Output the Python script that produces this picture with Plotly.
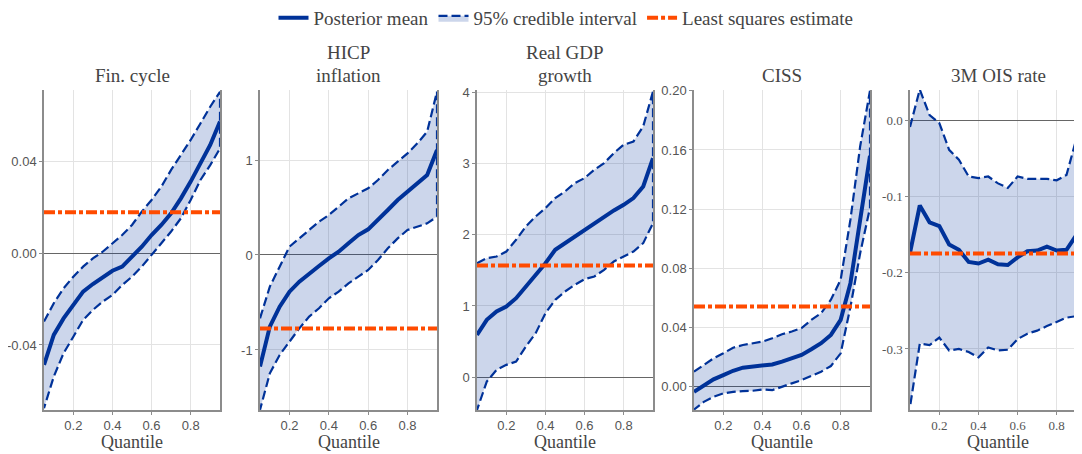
import plotly.graph_objects as go

# ---------------- data ----------------
quantiles = [0.05, 0.10, 0.15, 0.20, 0.25, 0.30, 0.35, 0.40, 0.45, 0.50,
             0.55, 0.60, 0.65, 0.70, 0.75, 0.80, 0.85, 0.90, 0.95]

title_line1 = ["", "HICP", "Real GDP", "", ""]
title_line2 = ["Fin. cycle", "inflation", "growth", "CISS", "3M OIS rate"]

fin_mean = [-0.0487, -0.0356, -0.0284, -0.0225, -0.0167, -0.0134, -0.0105, -0.0076, -0.0058, -0.0015,
            0.0029, 0.0080, 0.0124, 0.0175, 0.0240, 0.0313, 0.0393, 0.0473, 0.0575]
fin_upper = [-0.0298, -0.0218, -0.0153, -0.0102, -0.0058, -0.0022, 0.0007, 0.0044, 0.0080, 0.0124,
             0.0182, 0.0233, 0.0291, 0.0364, 0.0429, 0.0495, 0.0567, 0.0640, 0.0705]
fin_lower = [-0.0676, -0.0538, -0.0436, -0.0364, -0.0291, -0.0247, -0.0211, -0.0182, -0.0138, -0.0102,
             -0.0058, -0.0007, 0.0044, 0.0095, 0.0153, 0.0233, 0.0320, 0.0385, 0.0458]
fin_ls = 0.0179

hicp_mean = [-1.175, -0.754, -0.544, -0.386, -0.281, -0.193, -0.116, -0.035, 0.035, 0.123,
             0.210, 0.270, 0.368, 0.474, 0.579, 0.667, 0.754, 0.842, 1.105]
hicp_upper = [-0.667, -0.333, -0.123, 0.088, 0.175, 0.263, 0.351, 0.421, 0.509, 0.596,
              0.649, 0.702, 0.789, 0.895, 0.982, 1.070, 1.175, 1.298, 1.720]
hicp_lower = [-1.630, -1.246, -1.053, -0.912, -0.772, -0.649, -0.561, -0.456, -0.386, -0.298,
              -0.228, -0.158, -0.053, 0.070, 0.175, 0.263, 0.298, 0.333, 0.404]
hicp_ls = -0.775

gdp_mean = [0.594, 0.805, 0.922, 0.992, 1.109, 1.273, 1.437, 1.600, 1.788, 1.881,
            1.984, 2.068, 2.162, 2.255, 2.340, 2.419, 2.513, 2.677, 3.074]
gdp_upper = [1.600, 1.670, 1.694, 1.764, 1.928, 2.115, 2.255, 2.372, 2.513, 2.606,
             2.723, 2.794, 2.911, 3.004, 3.145, 3.262, 3.308, 3.519, 4.010]
gdp_lower = [-0.459, -0.061, 0.103, 0.173, 0.220, 0.430, 0.618, 0.898, 1.086, 1.203,
             1.296, 1.376, 1.413, 1.507, 1.624, 1.694, 1.764, 1.881, 2.162]
gdp_ls = 1.568

ciss_mean = [-0.0034, 0.0011, 0.0050, 0.0079, 0.0108, 0.0129, 0.0136, 0.0140, 0.0151, 0.0170,
             0.0192, 0.0215, 0.0253, 0.0294, 0.0350, 0.0452, 0.0700, 0.1130, 0.1560]
ciss_upper = [0.0102, 0.0147, 0.0192, 0.0226, 0.0264, 0.0282, 0.0294, 0.0305, 0.0328, 0.0355,
              0.0373, 0.0396, 0.0452, 0.0497, 0.0588, 0.0723, 0.1130, 0.1627, 0.2000]
ciss_lower = [-0.0154, -0.0102, -0.0068, -0.0045, -0.0034, -0.0029, -0.0027, -0.0018, -0.0023, 0.0000,
              0.0023, 0.0045, 0.0072, 0.0102, 0.0140, 0.0226, 0.0540, 0.0904, 0.1210]
ciss_ls = 0.0542

ois_mean = [-0.174, -0.112, -0.134, -0.139, -0.163, -0.170, -0.186, -0.188, -0.183, -0.189,
            -0.190, -0.180, -0.172, -0.171, -0.166, -0.171, -0.170, -0.151, -0.151]
ois_upper = [-0.009, 0.040, 0.0065, -0.004, -0.039, -0.052, -0.074, -0.076, -0.074, -0.083,
             -0.089, -0.074, -0.077, -0.077, -0.077, -0.079, -0.072, -0.025, 0.020]
ois_lower = [-0.376, -0.293, -0.295, -0.285, -0.302, -0.300, -0.304, -0.311, -0.298, -0.302,
             -0.301, -0.287, -0.280, -0.276, -0.270, -0.264, -0.259, -0.257, -0.290]
ois_ls = -0.175

x_tickvals = [0.2, 0.4, 0.6, 0.8]
x_ticktext = ["0.2", "0.4", "0.6", "0.8"]

y_tickvals = [
    [-0.04, 0.0, 0.04],
    [-1, 0, 1],
    [0, 1, 2, 3, 4],
    [0.0, 0.04, 0.08, 0.12, 0.16, 0.20],
    [-0.3, -0.2, -0.1, 0.0],
]
y_ticktext = [
    ["-0.04", "0.00", "0.04"],
    ["-1", "0", "1"],
    ["0", "1", "2", "3", "4"],
    ["0.00", "0.04", "0.08", "0.12", "0.16", "0.20"],
    ["-0.3", "-0.2", "-0.1", "0.0"],
]

means = [fin_mean, hicp_mean, gdp_mean, ciss_mean, ois_mean]
uppers = [fin_upper, hicp_upper, gdp_upper, ciss_upper, ois_upper]
lowers = [fin_lower, hicp_lower, gdp_lower, ciss_lower, ois_lower]
ls_vals = [fin_ls, hicp_ls, gdp_ls, ciss_ls, ois_ls]

# ---------------- layout constants ----------------
OFF = 8                      # default page body margin
W, H = 1082 - OFF, 454 - OFF  # figure size so that it fills the window


def fx(px):
    return (px - OFF) / W


def fy(py):
    return 1 - (py - OFF) / H


panel_px = [(44, 220), (260, 437), (477, 653), (694, 870), (910, 1082)]
y_ranges = [[-0.0684, 0.0713], [-1.632, 1.737], [-0.46, 4.03], [-0.0157, 0.2005], [-0.380, 0.0394]]
x_ranges = [[0.05, 0.95]] * 4 + [[0.05, 0.05 + (1082 - 910) / 195.6]]
plot_top, plot_bottom = 90, 410

BLUE = "#003299"
BAND = "rgba(0,50,153,0.20)"
ORANGE = "#ff4b00"
SERIF = "Liberation Serif, Times New Roman, serif"
SANS = "Liberation Sans, Arial, sans-serif"

fig = go.Figure()

for i in range(5):
    xa = "x" if i == 0 else f"x{i+1}"
    ya = "y" if i == 0 else f"y{i+1}"
    show = i == 0
    band_x = quantiles + quantiles[::-1]
    band_y = uppers[i] + lowers[i][::-1]
    fig.add_trace(go.Scatter(
        x=band_x, y=band_y, fill="toself", fillcolor=BAND,
        line=dict(color=BLUE, width=2.2, dash="9px,4px"),
        mode="lines", name="95% credible interval", legendrank=2,
        showlegend=show, xaxis=xa, yaxis=ya, hoverinfo="skip"))
    fig.add_trace(go.Scatter(
        x=quantiles, y=means[i], mode="lines",
        line=dict(color=BLUE, width=4), name="Posterior mean", legendrank=1,
        showlegend=show, xaxis=xa, yaxis=ya))
    fig.add_trace(go.Scatter(
        x=[quantiles[0], quantiles[-1]], y=[ls_vals[i], ls_vals[i]], mode="lines",
        line=dict(color=ORANGE, width=4, dash="11px,3px,4px,3px"),
        name="Least squares estimate", legendrank=3,
        showlegend=show, xaxis=xa, yaxis=ya))

layout = dict(
    width=W, height=H,
    margin=dict(l=0, r=0, t=0, b=0, autoexpand=False),
    paper_bgcolor="white", plot_bgcolor="white",
    showlegend=True,
    legend=dict(orientation="h", x=fx(566), xanchor="center", y=fy(18), yanchor="middle",
                font=dict(family=SERIF, size=19, color="#444"), itemwidth=30,
                bgcolor="rgba(0,0,0,0)", tracegroupgap=0),
)

annotations = []
for i in range(5):
    x0, x1 = panel_px[i]
    xkey = "xaxis" if i == 0 else f"xaxis{i+1}"
    ykey = "yaxis" if i == 0 else f"yaxis{i+1}"
    ya = "y" if i == 0 else f"y{i+1}"
    xa = "x" if i == 0 else f"x{i+1}"
    tickfont = dict(family=SERIF if i == 4 else SANS, size=13, color="#555")
    layout[xkey] = dict(
        domain=[fx(x0), min(fx(x1), 1.0)], range=x_ranges[i], anchor=ya,
        tickvals=x_tickvals, ticktext=x_ticktext, tickfont=tickfont,
        showgrid=True, gridcolor="#e3e3e3", gridwidth=1,
        showline=True, linecolor="#8c8c8c", linewidth=1.5,
        ticks="outside", ticklen=3, tickcolor="#8c8c8c", zeroline=False,
    )
    layout[ykey] = dict(
        domain=[fy(plot_bottom), fy(plot_top)], range=y_ranges[i], anchor=xa,
        tickvals=y_tickvals[i], ticktext=y_ticktext[i], tickfont=tickfont,
        showgrid=True, gridcolor="#e3e3e3", gridwidth=1,
        showline=True, linecolor="#8c8c8c", linewidth=1.5, mirror=(i != 4),
        ticks="outside", ticklen=3, tickcolor="#8c8c8c",
        zeroline=True, zerolinecolor="#666", zerolinewidth=1,
    )
    cx = fx((x0 + x1) / 2 if i < 4 else 998)
    if title_line1[i]:
        annotations.append(dict(
            text=title_line1[i], x=cx, y=fy(53), xref="paper", yref="paper",
            xanchor="center", yanchor="middle", showarrow=False,
            font=dict(family=SERIF, size=19, color="#444")))
    annotations.append(dict(
        text=title_line2[i], x=cx, y=fy(75), xref="paper", yref="paper",
        xanchor="center", yanchor="middle", showarrow=False,
        font=dict(family=SERIF, size=19, color="#444")))
    annotations.append(dict(
        text="Quantile", x=cx, y=fy(442), xref="paper", yref="paper",
        xanchor="center", yanchor="middle", showarrow=False,
        font=dict(family=SERIF, size=18, color="#444")))

layout["annotations"] = annotations
fig.update_layout(**layout)

fig.write_html("out.html")
